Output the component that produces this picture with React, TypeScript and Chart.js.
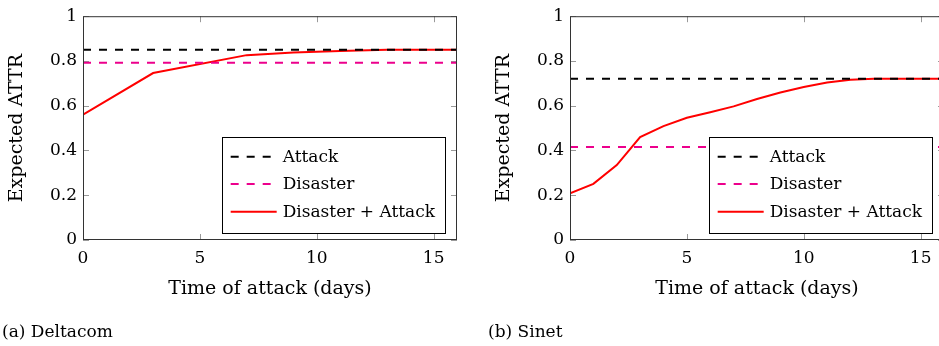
import React, { useEffect, useRef } from "react";
import { Chart, registerables } from "chart.js";

Chart.register(...registerables);

// ---------- data ----------
const xTicks = [0, 5, 10, 15];
const yTickLabels = ["0", "0.2", "0.4", "0.6", "0.8", "1"];
const legendLabels = ["Attack", "Disaster", "Disaster + Attack"];

const deltacomAttack = 0.85;
const deltacomDisaster = 0.792;
const deltacomDays = [0, 3, 7, 9, 11, 13, 16];
const deltacomCombined = [0.56, 0.746, 0.826, 0.838, 0.845, 0.85, 0.85];

const sinetAttack = 0.721;
const sinetDisaster = 0.416;
const sinetDays = [0, 1, 2, 3, 4, 5, 6, 7, 8, 9, 10, 11, 12, 13, 14, 15, 16];
const sinetCombined = [
  0.209, 0.251, 0.335, 0.46, 0.509, 0.546, 0.571, 0.597, 0.63, 0.659, 0.684,
  0.704, 0.716, 0.721, 0.721, 0.721, 0.721,
];

const X_MAX = 16;
const FONT = "DejaVu Serif";
const FS = 17;
const TITLE_FS = 19;

const legendPlugin = {
  id: "pgfLegend",
  beforeDatasetsDraw(chart: any) {
    const { ctx, chartArea } = chart;
    const xs = chart.scales.x;
    const ys = chart.scales.y;
    ctx.save();
    ctx.strokeStyle = "#999";
    ctx.lineWidth = 1;
    const L = 6;
    xTicks.forEach((v) => {
      const px = Math.round(xs.getPixelForValue(v)) + 0.5;
      ctx.beginPath();
      ctx.moveTo(px, chartArea.bottom);
      ctx.lineTo(px, chartArea.bottom - L);
      ctx.moveTo(px, chartArea.top);
      ctx.lineTo(px, chartArea.top + L);
      ctx.stroke();
    });
    yTickLabels.forEach((_, i) => {
      const py = Math.round(ys.getPixelForValue(i * 0.2)) + 0.5;
      ctx.beginPath();
      ctx.moveTo(chartArea.left, py);
      ctx.lineTo(chartArea.left + L, py);
      ctx.moveTo(chartArea.right, py);
      ctx.lineTo(chartArea.right - L, py);
      ctx.stroke();
    });
    ctx.restore();
  },
  afterDatasetsDraw(chart: any) {
    const { ctx, chartArea } = chart;
    ctx.save();
    ctx.strokeStyle = "#333";
    ctx.lineWidth = 1;
    ctx.strokeRect(
      chartArea.left + 0.5,
      chartArea.top + 0.5,
      chartArea.right - chartArea.left - 1,
      chartArea.bottom - chartArea.top - 1
    );
    // legend
    ctx.font = `${FS}px "${FONT}"`;
    const textW = Math.max(...legendLabels.map((t) => ctx.measureText(t).width));
    const w = Math.max(223, 9 + 52 + textW + 10);
    const h = 96;
    const right = chartArea.right - 12;
    const bottom = chartArea.bottom - 7;
    const left = right - w;
    const top = bottom - h;
    ctx.fillStyle = "#fff";
    ctx.fillRect(left, top, w, h);
    ctx.strokeStyle = "#000";
    ctx.strokeRect(Math.round(left) + 0.5, Math.round(top) + 0.5, Math.round(w), Math.round(h));
    const rows = [19.7, 47, 74.7];
    chart.data.datasets.forEach((ds: any, i: number) => {
      const y = top + rows[i];
      ctx.beginPath();
      ctx.strokeStyle = ds.borderColor;
      ctx.lineWidth = ds.borderWidth;
      ctx.setLineDash(ds.borderDash || []);
      ctx.moveTo(left + 9, y);
      ctx.lineTo(left + 9 + 46, y);
      ctx.stroke();
      ctx.setLineDash([]);
      ctx.fillStyle = "#000";
      ctx.textBaseline = "middle";
      ctx.textAlign = "left";
      ctx.fillText(legendLabels[i], left + 61, y + 1);
    });
    ctx.restore();
  },
};

function makeConfig(
  attack: number,
  disaster: number,
  days: number[],
  combined: number[],
  padLeft: number,
  padRight: number
): any {
  return {
    type: "line",
    data: {
      datasets: [
        {
          label: legendLabels[0],
          data: [
            { x: 0, y: attack },
            { x: X_MAX, y: attack },
          ],
          borderColor: "#000000",
          borderWidth: 2,
          borderDash: [8, 8],
          pointRadius: 0,
          tension: 0,
        },
        {
          label: legendLabels[1],
          data: [
            { x: 0, y: disaster },
            { x: X_MAX, y: disaster },
          ],
          borderColor: "#ec008c",
          borderWidth: 2,
          borderDash: [8, 8],
          pointRadius: 0,
          tension: 0,
        },
        {
          label: legendLabels[2],
          data: days.map((d, i) => ({ x: d, y: combined[i] })),
          borderColor: "#ff0000",
          borderWidth: 2,
          pointRadius: 0,
          tension: 0,
        },
      ],
    },
    options: {
      animation: false,
      responsive: false,
      maintainAspectRatio: false,
      layout: { padding: { left: padLeft, right: padRight, top: 14, bottom: 46 } },
      plugins: { legend: { display: false }, tooltip: { enabled: false } },
      scales: {
        x: {
          type: "linear",
          min: 0,
          max: X_MAX,
          afterBuildTicks: (s: any) => {
            s.ticks = xTicks.map((v) => ({ value: v }));
          },
          afterFit: (s: any) => {
            s.height = 60;
          },
          grid: { display: false, drawTicks: false },
          border: { display: false },
          ticks: {
            color: "#000",
            padding: 8,
            maxRotation: 0,
            autoSkip: false,
            font: { family: FONT, size: FS },
            callback: (v: any) => String(v),
          },
          title: {
            display: true,
            text: "Time of attack (days)",
            color: "#000",
            font: { family: FONT, size: TITLE_FS, lineHeight: 1.1 },
            padding: { top: 0, bottom: 0 },
          },
        },
        y: {
          type: "linear",
          min: 0,
          max: 1,
          afterBuildTicks: (s: any) => {
            s.ticks = yTickLabels.map((_, i) => ({ value: i * 0.2 }));
          },
          afterFit: (s: any) => {
            s.width = 83;
          },
          grid: { display: false, drawTicks: false },
          border: { display: false },
          ticks: {
            color: "#000",
            padding: 6,
            autoSkip: false,
            font: { family: FONT, size: FS },
            callback: (_v: any, i: number) => yTickLabels[i],
          },
          title: {
            display: true,
            text: "Expected ATTR",
            color: "#000",
            font: { family: FONT, size: TITLE_FS, lineHeight: 1.1 },
            padding: { top: 7, bottom: 0 },
          },
        },
      },
    },
    plugins: [legendPlugin],
  };
}

function Panel(props: {
  left: number;
  width: number;
  config: () => any;
}) {
  const ref = useRef<HTMLCanvasElement | null>(null);
  useEffect(() => {
    if (!ref.current) return;
    const chart = new Chart(ref.current, props.config());
    return () => chart.destroy();
  }, []);
  return (
    <canvas
      ref={ref}
      width={props.width}
      height={346}
      style={{
        position: "absolute",
        left: props.left,
        top: 0,
        width: props.width,
        height: 346,
      }}
    />
  );
}

const captionStyle: React.CSSProperties = {
  position: "absolute",
  top: 320,
  fontFamily: FONT,
  fontSize: FS,
  lineHeight: "22px",
  color: "#000",
  whiteSpace: "nowrap",
};

export default function App() {
  return (
    <div
      style={{
        position: "absolute",
        left: 0,
        top: 0,
        width: 939,
        height: 346,
        overflow: "hidden",
        background: "#fff",
      }}
    >
      <Panel
        left={0}
        width={470}
        config={() =>
          makeConfig(deltacomAttack, deltacomDisaster, deltacomDays, deltacomCombined, 0, 13)
        }
      />
      <Panel
        left={470}
        width={480}
        config={() =>
          makeConfig(sinetAttack, sinetDisaster, sinetDays, sinetCombined, 17, 6)
        }
      />
      <div style={{ ...captionStyle, left: 2 }}>(a) Deltacom</div>
      <div style={{ ...captionStyle, left: 488 }}>(b) Sinet</div>
    </div>
  );
}
